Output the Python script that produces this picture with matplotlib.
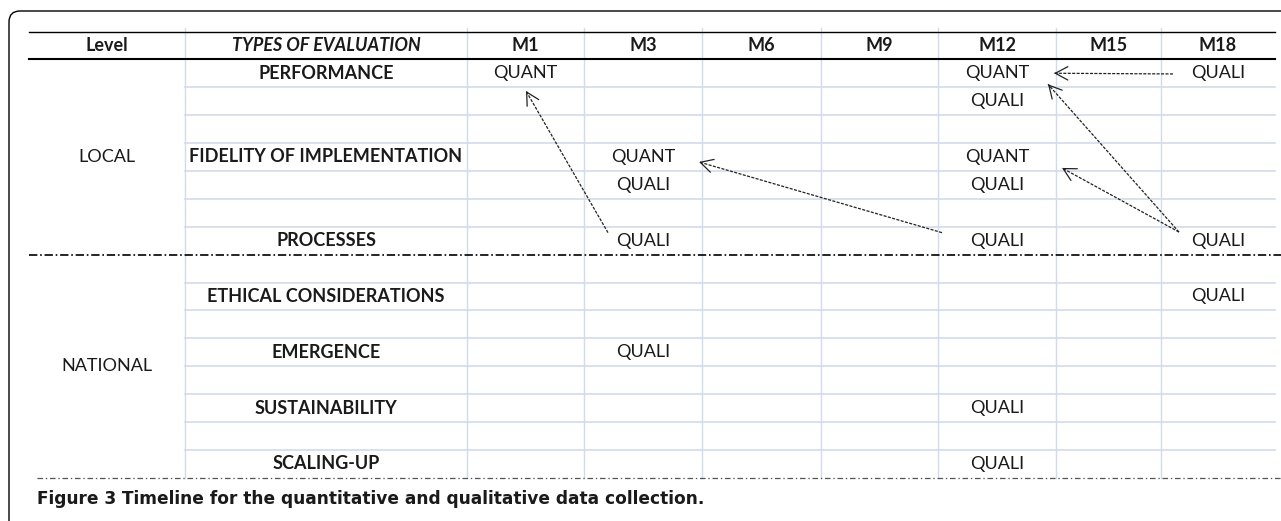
import matplotlib
matplotlib.use("Agg")
import matplotlib.pyplot as plt
from matplotlib.patches import FancyBboxPatch

plt.rcParams['lines.scale_dashes'] = False

# table content
months = ['M1', 'M3', 'M6', 'M9', 'M12', 'M15', 'M18']
eval_types = ['PERFORMANCE', '', '', 'FIDELITY OF IMPLEMENTATION', '', '', 'PROCESSES',
              '', 'ETHICAL CONSIDERATIONS', '', 'EMERGENCE', '', 'SUSTAINABILITY', '', 'SCALING-UP']
levels = ['LOCAL', 'NATIONAL']
level_first_row = [0, 7]
level_last_row = [6, 14]
cell_rows = [0, 0, 0, 1, 3, 3, 4, 4, 6, 6, 6, 8, 10, 12, 14]
cell_months = ['M1', 'M12', 'M18', 'M12', 'M3', 'M12', 'M3', 'M12', 'M3', 'M12', 'M18', 'M18', 'M3', 'M12', 'M12']
cell_values = ['QUANT', 'QUANT', 'QUALI', 'QUALI', 'QUANT', 'QUANT', 'QUALI', 'QUALI',
               'QUALI', 'QUALI', 'QUALI', 'QUALI', 'QUALI', 'QUALI', 'QUALI']
# arrows: from (row, month) to (row, month)
link_from = [(6, 'M3'), (6, 'M12'), (0, 'M18'), (6, 'M18'), (6, 'M18')]
link_to = [(0, 'M1'), (3, 'M3'), (0, 'M12'), (0, 'M12'), (3, 'M12')]
caption_bold = 'Figure 3'
caption_text = ' Timeline for the quantitative and qualitative data collection.'

# layout (pixels)
W, H = 1281, 521
col_edges = [29, 185, 467, 584, 702, 821, 938, 1056, 1161, 1275]
head_top, head_bot = 31.7, 59.3
pitch = 27.9
grid_col = '#d3dbea'
txt_col = '#1a1a1a'
arrow_col = '#222222'
tail_off = [(-35, -8), (-55, -8), (-45, 0.7), (-39, -8.6), (-39, -8.6)]
head_off = [(0.5, 17.7), (56, 5), (57, 0), (51, 11), (65, 11)]
cap_x0, cap_x1, cap_y = 37, 700, 499

fig = plt.figure(figsize=(W / 100, H / 100), dpi=100)
ax = fig.add_axes([0, 0, 1, 1])
ax.set_xlim(0, W)
ax.set_ylim(H, 0)
ax.axis('off')


def row_y(r):
    return head_bot + pitch * (r + 0.5)


def col_x(i):
    return (col_edges[i] + col_edges[i + 1]) / 2


def month_x(m):
    return col_x(2 + months.index(m))


n_rows = len(eval_types)
bottom = head_bot + pitch * n_rows
local_end = head_bot + pitch * (level_last_row[0] + 1)

# frame
frame = FancyBboxPatch((9, 11), 1400, 700, boxstyle='round,pad=0,rounding_size=11',
                       fc='none', ec='black', lw=1.0, clip_on=True)
ax.add_patch(frame)

# grid
for xe in col_edges[1:-1]:
    ax.plot([xe, xe], [28, bottom], color=grid_col, lw=1.0, zorder=1)
for r in range(1, n_rows):
    if r == level_last_row[0] + 1:
        continue
    yy = head_bot + pitch * r
    ax.plot([col_edges[1], col_edges[-1]], [yy, yy], color=grid_col, lw=1.2, zorder=1)

# header rules
ax.plot([col_edges[0], col_edges[-1]], [head_top, head_top], color='black', lw=1.0, zorder=2)
ax.plot([col_edges[0], col_edges[-1]], [head_bot, head_bot], color='black', lw=1.5, zorder=2)
ax.plot([col_edges[0], W], [local_end, local_end], color='black', lw=1.2,
        linestyle=(0, (6, 2, 1.2, 2)), zorder=2)
ax.plot([cap_x0, W], [bottom, bottom], color='#555555', lw=0.9,
        linestyle=(0, (4, 2, 1, 2)), zorder=2)

fs = 13
hy = (head_top + head_bot) / 2
ax.text(col_x(0), hy, 'Level', ha='center', va='center', fontsize=fs, fontweight='bold',
        family='Lato', color=txt_col)
ax.text(col_x(1), hy, 'TYPES OF EVALUATION', ha='center', va='center', fontsize=fs,
        fontweight='bold', fontstyle='italic', family='Lato', color=txt_col)
for m in months:
    ax.text(month_x(m), hy, m, ha='center', va='center', fontsize=fs, fontweight='bold',
            family='Lato', color=txt_col)

for r, name in enumerate(eval_types):
    if name:
        ax.text(col_x(1), row_y(r), name, ha='center', va='center', fontsize=fs,
                fontweight='bold', family='Lato', color=txt_col)

for lv, a, b in zip(levels, level_first_row, level_last_row):
    ax.text(col_x(0), (row_y(a) + row_y(b)) / 2, lv, ha='center', va='center',
            fontsize=fs, family='Lato', color=txt_col)

for r, m, v in zip(cell_rows, cell_months, cell_values):
    ax.text(month_x(m), row_y(r), v, ha='center', va='center', fontsize=fs,
            family='Lato', color=txt_col)

# arrows
for (fr, fm), (tr, tm), to, ho in zip(link_from, link_to, tail_off, head_off):
    x0, y0 = month_x(fm) + to[0], row_y(fr) + to[1]
    x1, y1 = month_x(tm) + ho[0], row_y(tr) + ho[1]
    ax.plot([x0, x1], [y0, y1], color=arrow_col, lw=0.9, linestyle=(0, (2.2, 1.0)), zorder=3)
    dx, dy = x0 - x1, y0 - y1
    d = (dx ** 2 + dy ** 2) ** 0.5
    ax.annotate('', xy=(x1, y1), xytext=(x1 + dx / d * 3, y1 + dy / d * 3),
                arrowprops=dict(arrowstyle='->,head_length=0.6,head_width=0.32',
                                color=arrow_col, lw=0.9, shrinkA=0, shrinkB=0,
                                mutation_scale=15), zorder=3)

# caption, sized so it ends where the reference one does
cfs = 11
t1 = ax.text(cap_x0, cap_y, caption_bold, ha='left', va='center', fontsize=cfs,
             fontweight='bold', family='DejaVu Sans', color=txt_col)
t2 = ax.text(0, cap_y, caption_text, ha='left', va='center', fontsize=cfs,
             fontweight='bold', family='DejaVu Sans', color=txt_col)
fig.canvas.draw()
inv = ax.transData.inverted()
w = (t1.get_window_extent().width + t2.get_window_extent().width)
cfs = cfs * (cap_x1 - cap_x0) / w
t1.set_fontsize(cfs)
t2.set_fontsize(cfs)
fig.canvas.draw()
bb = t1.get_window_extent().transformed(inv)
t2.set_x(bb.x1)

fig.savefig('out.png', dpi=100)
